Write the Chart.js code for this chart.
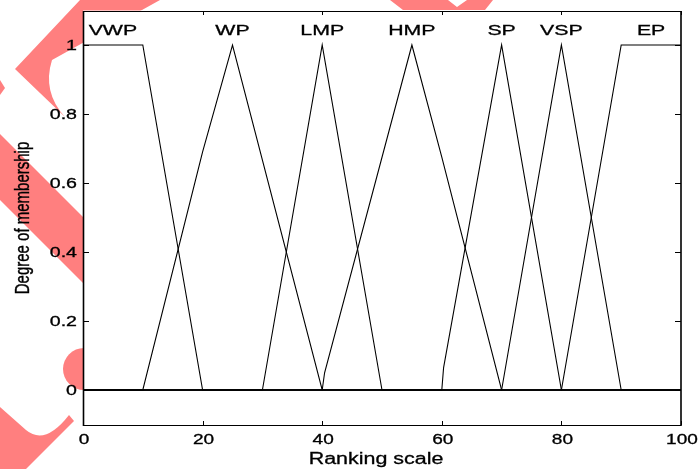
<!DOCTYPE html>
<html>
<head>
<meta charset="utf-8">
<script src="https://cdn.jsdelivr.net/npm/chart.js@4/dist/chart.umd.min.js"></script>
<style>
    html, body { margin: 0; padding: 0; background: #fff; }
    #wrap { width: 699px; height: 469px; }
</style>
</head>
<body>
<div id="wrap"><canvas id="mfCanvas" width="699" height="469"></canvas></div>
<script>
// membership functions (x = ranking scale, y = degree)
const mfNames = ['VWP', 'WP', 'LMP', 'HMP', 'SP', 'VSP', 'EP'];

const vwpX = [0, 10, 20, 100];
const vwpY = [1, 1, 0, 0];
const wpX  = [0, 10, 20, 25, 40, 100];
const wpY  = [0, 0, 0.69, 1, 0, 0];
const lmpX = [0, 30, 40, 50, 100];
const lmpY = [0, 0, 1, 0, 0];
const hmpX = [0, 40, 40.4, 55, 60, 70, 100];
const hmpY = [0, 0, 0.05, 1, 0.675, 0, 0];
const spX  = [0, 60, 60.3, 70, 80, 100];
const spY  = [0, 0, 0.065, 1, 0, 0];
const vspX = [0, 70, 80, 90, 100];
const vspY = [0, 0, 1, 0, 0];
const epX  = [0, 80, 90, 100];
const epY  = [0, 0, 1, 1];

// where each name sits (data coords)
const labelX = [5, 25, 40, 55, 70, 80, 95];
const labelY = 1.03;

const xTicks = [0, 20, 40, 60, 80, 100];
const yTicks = [0, 0.2, 0.4, 0.6, 0.8, 1];
const xTitle = 'Ranking scale';
const yTitle = 'Degree of membership';

const FONT = "'Liberation Sans', Arial, Helvetica, sans-serif";

const seriesX = [vwpX, wpX, lmpX, hmpX, spX, vspX, epX];
const seriesY = [vwpY, wpY, lmpY, hmpY, spY, vspY, epY];

const datasets = mfNames.map((name, i) => ({
    label: name,
    data: seriesX[i].map((x, j) => ({ x, y: seriesY[i][j] })),
    borderColor: '#000',
    borderWidth: 1.1,
    pointRadius: 0,
    tension: 0,
    fill: false,
}));

// the reference image is stretched sideways, so its text is too
function wideText(ctx, text, x, y, sx, align, baseline, font) {
    ctx.save();
    ctx.translate(x, y);
    ctx.scale(sx, 1);
    ctx.font = font;
    ctx.fillStyle = '#000';
    ctx.strokeStyle = '#000';
    ctx.lineWidth = 0.3;
    ctx.textAlign = align;
    ctx.textBaseline = baseline;
    ctx.fillText(text, 0, 0);
    ctx.strokeText(text, 0, 0);
    ctx.restore();
}

// faint red watermark behind the axes
function drawWatermark(ctx) {
    ctx.save();
    ctx.fillStyle = '#ff7f7f';

    ctx.beginPath();
    ctx.moveTo(80, 0);
    ctx.lineTo(160, 0);
    ctx.lineTo(52, 60);
    ctx.quadraticCurveTo(42, 92, 65, 117);
    ctx.lineTo(15, 69);
    ctx.closePath();
    ctx.fill();

    ctx.beginPath();
    ctx.moveTo(0, 80);
    ctx.lineTo(5, 88);
    ctx.lineTo(0, 95);
    ctx.closePath();
    ctx.fill();

    ctx.beginPath();
    ctx.moveTo(0, 134);
    ctx.lineTo(90, 224);
    ctx.lineTo(90, 290);
    ctx.lineTo(0, 200);
    ctx.closePath();
    ctx.fill();

    ctx.beginPath();
    ctx.arc(84, 369, 21, 0, Math.PI * 2);
    ctx.fill();

    ctx.beginPath();
    ctx.moveTo(0, 407);
    ctx.lineTo(26, 430);
    ctx.quadraticCurveTo(45, 446, 69, 415);
    ctx.lineTo(74, 421);
    ctx.lineTo(26, 469);
    ctx.lineTo(0, 469);
    ctx.closePath();
    ctx.fill();

    ctx.beginPath();
    ctx.moveTo(390, 0);
    ctx.lineTo(448, 0);
    ctx.lineTo(457, 7);
    ctx.lineTo(467, 0);
    ctx.lineTo(493, 0);
    ctx.lineTo(485, 10);
    ctx.lineTo(403, 10);
    ctx.closePath();
    ctx.fill();
    ctx.restore();
}

const backdrop = {
    id: 'backdrop',
    beforeDraw(chart) {
        const { ctx, chartArea: a } = chart;
        ctx.save();
        ctx.fillStyle = '#fff';
        ctx.fillRect(0, 0, chart.width, chart.height);
        drawWatermark(ctx);
        ctx.fillStyle = '#fff';
        ctx.fillRect(a.left, a.top, a.right - a.left, a.bottom - a.top);
        ctx.restore();
    },
};

// matlab-ish box with inward ticks on all four sides, plus the texts
const matlabAxes = {
    id: 'matlabAxes',
    afterDraw(chart) {
        const { ctx, chartArea: a } = chart;
        const xs = chart.scales.x;
        const ys = chart.scales.y;
        const L = Math.round(a.left), R = Math.round(a.right);
        const T = Math.round(a.top), B = Math.round(a.bottom);

        ctx.save();
        ctx.strokeStyle = '#000';

        ctx.lineWidth = 1;
        ctx.beginPath();
        ctx.moveTo(L, T + 0.5); ctx.lineTo(R, T + 0.5);
        ctx.moveTo(L, B + 0.5); ctx.lineTo(R, B + 0.5);
        xTicks.forEach(v => {
            const px = Math.round(xs.getPixelForValue(v)) + 0.5;
            ctx.moveTo(px, B); ctx.lineTo(px, B - 4);
            ctx.moveTo(px, T); ctx.lineTo(px, T + 4);
        });
        yTicks.forEach(v => {
            const py = Math.round(ys.getPixelForValue(v)) + 0.5;
            ctx.moveTo(L, py); ctx.lineTo(L + 6, py);
            ctx.moveTo(R, py); ctx.lineTo(R - 6, py);
        });
        ctx.stroke();

        ctx.lineWidth = 1.6;
        ctx.beginPath();
        ctx.moveTo(L + 0.5, T); ctx.lineTo(L + 0.5, B + 1);
        ctx.moveTo(R, T); ctx.lineTo(R, B + 1);
        ctx.stroke();
        ctx.restore();

        const tickFont = `14px ${FONT}`;
        xTicks.forEach(v => {
            wideText(ctx, String(v), xs.getPixelForValue(v) + 1, B + 15.5, 1.36, 'center', 'middle', tickFont);
        });
        yTicks.forEach(v => {
            wideText(ctx, String(v), L - 6, ys.getPixelForValue(v) + 1, 1.4, 'right', 'middle', tickFont);
        });

        const nameFont = `15px ${FONT}`;
        mfNames.forEach((name, i) => {
            wideText(ctx, name, xs.getPixelForValue(labelX[i]), ys.getPixelForValue(labelY), 1.42, 'center', 'alphabetic', nameFont);
        });

        wideText(ctx, xTitle, (L + R) / 2 - 6, 464, 1.34, 'center', 'alphabetic', `16px ${FONT}`);

        ctx.save();
        ctx.translate(24, (T + B) / 2);
        ctx.rotate(-Math.PI / 2);
        ctx.scale(1, 1.3);
        ctx.font = `15px ${FONT}`;
        ctx.fillStyle = '#000';
        ctx.strokeStyle = '#000';
        ctx.lineWidth = 0.3;
        ctx.textAlign = 'center';
        ctx.textBaseline = 'middle';
        ctx.fillText(yTitle, 0, 0);
        ctx.strokeText(yTitle, 0, 0);
        ctx.restore();
    },
};

new Chart(document.getElementById('mfCanvas'), {
    type: 'line',
    data: { datasets },
    options: {
        responsive: false,
        devicePixelRatio: 1,
        animation: false,
        layout: { padding: { left: 0, top: 10.5, right: 18, bottom: 0 } },
        plugins: { legend: { display: false }, tooltip: { enabled: false } },
        scales: {
            x: {
                type: 'linear',
                min: 0,
                max: 100,
                grid: { display: false },
                border: { display: false },
                ticks: { display: false },
                afterBuildTicks: s => { s.ticks = xTicks.map(value => ({ value })); },
                afterFit: s => { s.height = 44.5; },
            },
            y: {
                type: 'linear',
                min: -0.1,
                max: 1.1,
                grid: { display: false },
                border: { display: false },
                ticks: { display: false },
                afterBuildTicks: s => { s.ticks = yTicks.map(value => ({ value })); },
                afterFit: s => { s.width = 83; },
            },
        },
    },
    plugins: [backdrop, matlabAxes],
});
</script>
</body>
</html>
